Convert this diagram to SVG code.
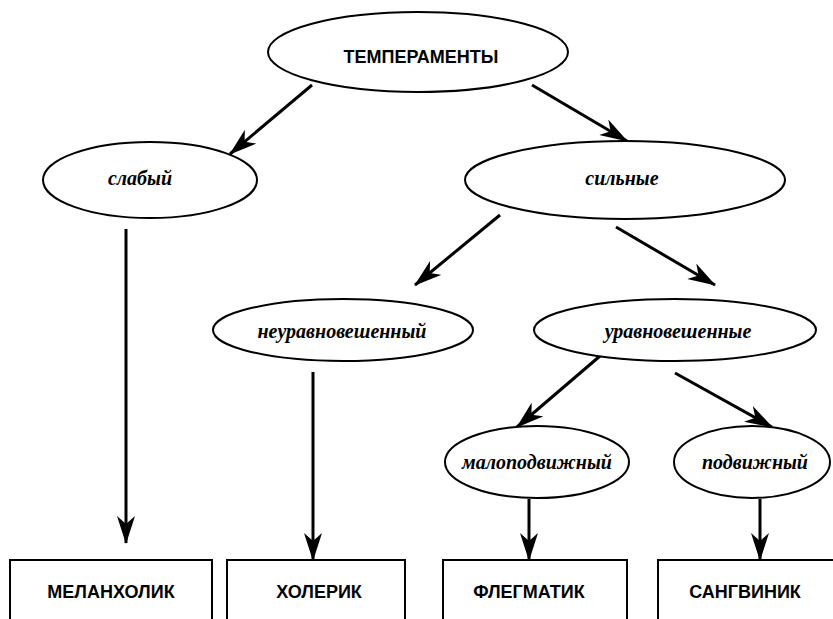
<svg xmlns="http://www.w3.org/2000/svg" width="833" height="619" viewBox="0 0 833 619">
<style>
.node ellipse, .node rect { fill: #fff; stroke: #000; stroke-width: 2; }
.cap { font-family: "Liberation Sans", Arial, sans-serif; font-weight: bold; font-size: 18px; text-anchor: middle; fill: #000; }
.lbl { font-family: "Liberation Serif", "Times New Roman", serif; font-style: italic; font-weight: bold; font-size: 20px; text-anchor: middle; fill: #000; }
#connectors line { stroke: #000; stroke-width: 3; marker-end: url(#arr); }
</style>
<defs>
<marker id="arr" markerUnits="userSpaceOnUse" viewBox="0 0 28 18" markerWidth="28" markerHeight="18" refX="27" refY="9" orient="auto">
<path d="M0,0 L28,9 L0,18 L8,9 Z" fill="#000"/>
</marker>
</defs>
<rect width="833" height="619" fill="#fff"/>
<g id="connectors">
<line x1="312" y1="85" x2="230" y2="154"/>
<line x1="532" y1="85" x2="627" y2="141"/>
<line x1="126" y1="229" x2="126" y2="543"/>
<line x1="500" y1="215" x2="415" y2="285"/>
<line x1="616" y1="227" x2="715" y2="285"/>
<line x1="313" y1="372" x2="313" y2="560"/>
<line x1="600" y1="356" x2="517" y2="427"/>
<line x1="675" y1="373" x2="772" y2="427"/>
<line x1="529" y1="499" x2="529" y2="560"/>
<line x1="760" y1="499" x2="760" y2="560"/>
</g>
<g id="temperamenty" class="node">
<ellipse cx="418" cy="52" rx="150" ry="40"/>
<text class="cap" x="421" y="63">ТЕМПЕРАМЕНТЫ</text>
</g>
<g id="slabyi" class="node">
<ellipse cx="150" cy="180" rx="107" ry="38"/>
<text class="lbl" x="140" y="185">слабый</text>
</g>
<g id="silnye" class="node">
<ellipse cx="625" cy="180" rx="160" ry="39"/>
<text class="lbl" x="622" y="185">сильные</text>
</g>
<g id="neuravnoveshennyi" class="node">
<ellipse cx="343" cy="330" rx="130" ry="31"/>
<text class="lbl" x="342" y="338">неуравновешенный</text>
</g>
<g id="uravnoveshennye" class="node">
<ellipse cx="675" cy="330" rx="141" ry="31"/>
<text class="lbl" x="678" y="338">уравновешенные</text>
</g>
<g id="malopodvizhnyi" class="node">
<ellipse cx="537" cy="462" rx="92" ry="36"/>
<text class="lbl" x="537" y="469">малоподвижный</text>
</g>
<g id="podvizhnyi" class="node">
<ellipse cx="752" cy="462" rx="78" ry="36"/>
<text class="lbl" x="755" y="469">подвижный</text>
</g>
<g id="melankholik" class="node">
<rect x="10" y="560" width="202" height="80"/>
<text class="cap" x="111" y="598">МЕЛАНХОЛИК</text>
</g>
<g id="kholerik" class="node">
<rect x="227" y="560" width="178" height="80"/>
<text class="cap" x="319" y="598">ХОЛЕРИК</text>
</g>
<g id="flegmatik" class="node">
<rect x="443" y="560" width="184" height="80"/>
<text class="cap" x="529" y="598">ФЛЕГМАТИК</text>
</g>
<g id="sangvinik" class="node">
<rect x="658" y="560" width="190" height="80"/>
<text class="cap" x="745" y="598">САНГВИНИК</text>
</g>
</svg>
